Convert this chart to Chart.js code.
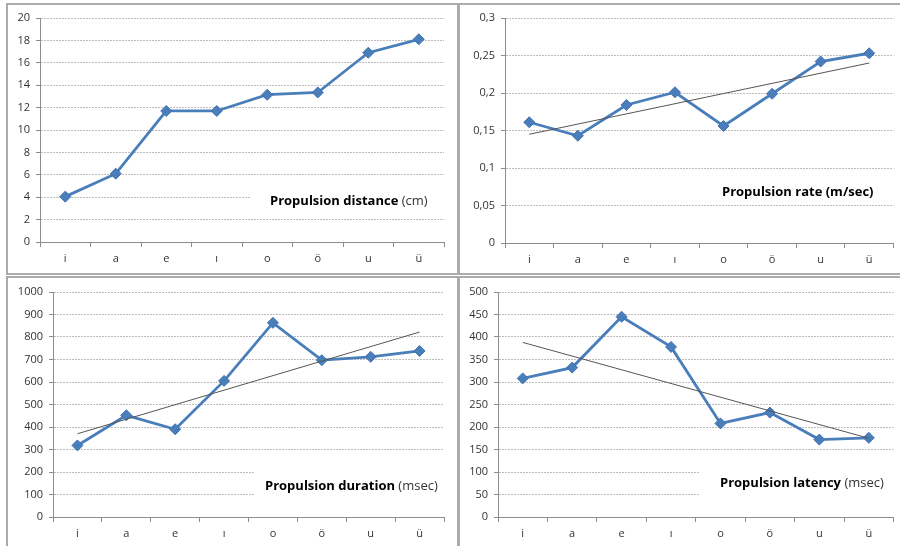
<!DOCTYPE html>
<html>
<head>
<meta charset="utf-8">
<script src="https://cdn.jsdelivr.net/npm/chart.js@4.4.1/dist/chart.umd.min.js"></script>
<style>
  html, body { margin: 0; padding: 0; background: #fff; overflow: hidden; }
  body { width: 900px; height: 546px; position: relative; }
  .panel { position: absolute; box-sizing: border-box; border: 2px solid #ababab; }
  .panel canvas { position: absolute; left: 0; top: 0; }
</style>
</head>
<body>
<div class="panel" id="p1"><canvas id="c1"></canvas></div>
<div class="panel" id="p2"><canvas id="c2"></canvas></div>
<div class="panel" id="p3"><canvas id="c3"></canvas></div>
<div class="panel" id="p4"><canvas id="c4"></canvas></div>
<script>
/* global Chart */
const vowels = ['i', 'a', 'e', 'ı', 'o', 'ö', 'u', 'ü'];

const distance = [4.05, 6.1, 11.7, 11.7, 13.15, 13.35, 16.9, 18.1];
const rate = [0.161, 0.143, 0.184, 0.201, 0.156, 0.199, 0.242, 0.253];
const duration = [318, 452, 390, 605, 863, 697, 712, 738];
const latency = [308, 332, 445, 378, 208, 232, 172, 176];

// trend line ends (first vowel, last vowel)
const rateTrend = [0.145, 0.24];
const durationTrend = [370, 822];
const latencyTrend = [388, 175];

const distanceTicks = [0, 20, 2];
const rateTicks = [0, 0.3, 0.05];
const durationTicks = [0, 1000, 100];
const latencyTicks = [0, 500, 50];

const BLUE = '#4a7ebb';
const GRID = '#bdbdbd';
const AXIS = '#8c8c8c';
const TICK_FONT = { family: 'Open Sans', size: 11 };

function commaNum(v) {
    return String(Number(v.toFixed(3))).replace('.', ',');
}

const labelPlugin = {
    id: 'panelLabel',
    beforeDatasetsDraw(chart) {
        const o = chart.options.plugins.panelLabel;
        if (!o) return;
        const ctx = chart.ctx;
        ctx.save();
        if (o.mask) {
            ctx.fillStyle = '#fff';
            ctx.fillRect(o.mask[0], o.mask[1], o.mask[2], o.mask[3]);
        }
        ctx.textBaseline = 'middle';
        ctx.fillStyle = '#000';
        ctx.font = 'bold 13px "Open Sans"';
        ctx.fillText(o.bold, o.x, o.y);
        const w = ctx.measureText(o.bold).width;
        if (o.plain) {
            ctx.fillStyle = '#333';
            ctx.font = '13px "Open Sans"';
            ctx.fillText(o.plain, o.x + w, o.y);
        }
        ctx.restore();
    }
};

function makePanel(id, box, plot, values, trend, ticks, label) {
    const div = document.getElementById('p' + id);
    const canvas = document.getElementById('c' + id);
    const bw = 2;
    div.style.left = box[0] + 'px';
    div.style.top = box[1] + 'px';
    div.style.width = (box[2] - box[0]) + 'px';
    div.style.height = (box[3] - box[1]) + 'px';
    const ox = box[0] + bw, oy = box[1] + bw;
    const cw = box[2] - box[0] - 2 * bw, ch = box[3] - box[1] - 2 * bw;
    canvas.width = cw;
    canvas.height = ch;
    canvas.style.width = cw + 'px';
    canvas.style.height = ch + 'px';

    const yWidth = plot[0] - ox;
    const xHeight = oy + ch - plot[3];

    const datasets = [];
    if (trend) {
        datasets.push({
            data: [{ x: vowels[0], y: trend[0] }, { x: vowels[vowels.length - 1], y: trend[1] }],
            borderColor: '#555',
            borderWidth: 1,
            pointRadius: 0,
            order: 0
        });
    }
    datasets.push({
        data: values,
        borderColor: BLUE,
        borderWidth: 2.8,
        pointStyle: 'rectRot',
        pointRadius: 5.5,
        pointBackgroundColor: BLUE,
        pointBorderColor: '#3f72b0',
        pointBorderWidth: 1,
        order: 1
    });

    const lab = Object.assign({}, label, {
        x: label.x - ox,
        y: label.y - oy,
        mask: label.mask ? [label.mask[0] - ox, label.mask[1] - oy, label.mask[2], label.mask[3]] : null
    });

    return new Chart(canvas, {
        type: 'line',
        data: { labels: vowels, datasets: datasets },
        options: {
            responsive: false,
            animation: false,
            layout: {
                padding: { left: 0, bottom: 0, top: plot[1] - oy, right: ox + cw - plot[2] }
            },
            plugins: {
                legend: { display: false },
                tooltip: { enabled: false },
                panelLabel: lab
            },
            scales: {
                x: {
                    offset: true,
                    grid: { offset: true, drawOnChartArea: false, tickLength: 5, color: AXIS },
                    border: { color: AXIS },
                    ticks: { color: '#333', font: TICK_FONT, padding: 5, maxRotation: 0 },
                    afterFit(s) { s.height = xHeight; }
                },
                y: {
                    min: ticks[0],
                    max: ticks[1],
                    grid: { color: GRID, tickLength: 4, tickColor: AXIS },
                    border: { color: AXIS, dash: [2, 1] },
                    ticks: {
                        stepSize: ticks[2],
                        color: '#333',
                        font: TICK_FONT,
                        padding: 6,
                        callback: v => commaNum(v)
                    },
                    afterFit(s) { s.width = yWidth; }
                }
            },
            elements: { line: { tension: 0 } }
        },
        plugins: [labelPlugin]
    });
}

makePanel(1, [6, 3, 459, 275], [40, 18, 444, 242], distance, null, distanceTicks,
    { bold: 'Propulsion distance', plain: ' (cm)', x: 270, y: 201, mask: [250, 184, 200, 28] });
makePanel(2, [458, 3, 902, 275], [505, 18, 897, 243], rate, rateTrend, rateTicks,
    { bold: 'Propulsion rate (m/sec)', plain: '', x: 722, y: 192, mask: null });
makePanel(3, [6, 276, 459, 556], [53, 292, 444, 517], duration, durationTrend, durationTicks,
    { bold: 'Propulsion duration', plain: ' (msec)', x: 265, y: 486, mask: [255, 462, 200, 42] });
makePanel(4, [458, 276, 902, 556], [498, 292, 894, 517], latency, latencyTrend, latencyTicks,
    { bold: 'Propulsion latency', plain: ' (msec)', x: 720, y: 483, mask: [700, 462, 200, 42] });
</script>
</body>
</html>
